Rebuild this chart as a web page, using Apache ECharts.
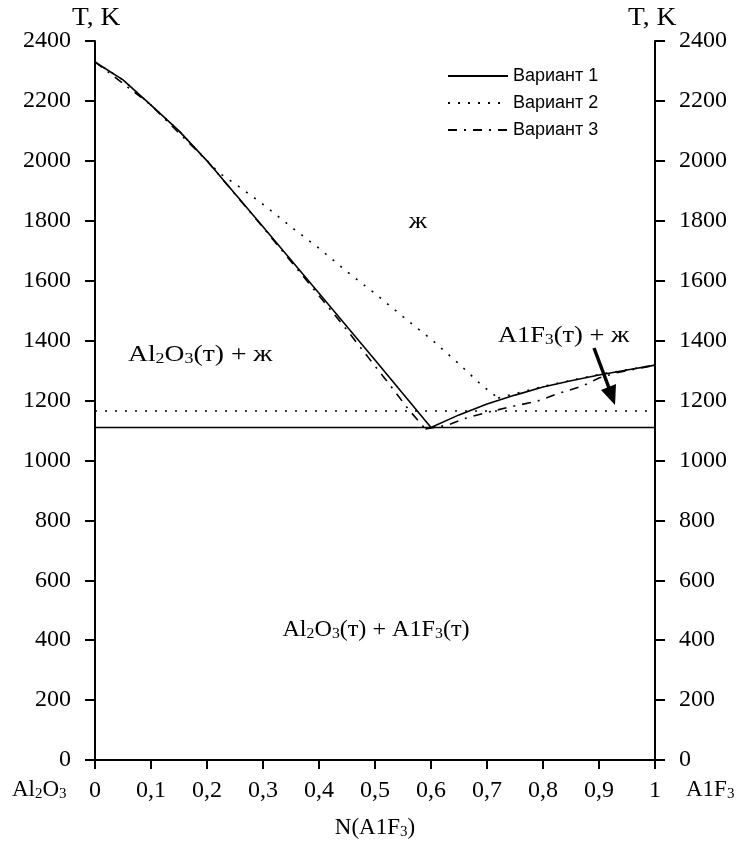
<!DOCTYPE html>
<html>
<head>
<meta charset="utf-8">
<script src="https://cdn.jsdelivr.net/npm/echarts@6/dist/echarts.min.js"></script>
<style>html,body{margin:0;padding:0;background:#fff}#c{width:741px;height:852px}</style>
</head>
<body>
<div id="c"></div>
<script>
// ---- data ----
var seriesNames = ['Вариант 1', 'Вариант 2', 'Вариант 3'];
var xTicks = [0, 0.1, 0.2, 0.3, 0.4, 0.5, 0.6, 0.7, 0.8, 0.9, 1];
var yTicks = [0, 200, 400, 600, 800, 1000, 1200, 1400, 1600, 1800, 2000, 2200, 2400];

// Variant 1 (solid)
var v1Left = [[0,2330],[0.05,2270],[0.1,2186],[0.15,2100],[0.2,2000],[0.3,1780],[0.4,1558],[0.5,1335],[0.6,1110]];
var v1Right = [[0.6,1110],[0.65,1152],[0.7,1188],[0.75,1218],[0.8,1245],[0.85,1266],[0.9,1285],[0.95,1302],[1,1318]];
var v1Solidus = [[0,1110],[1,1110]];

// Variant 2 (dotted)
var v2Left = [[0,2330],[0.05,2270],[0.1,2186],[0.15,2100],[0.18,2040],[0.22,1962],[0.26,1910],[0.3,1855],[0.35,1780],[0.4,1708],[0.45,1630],[0.5,1557],[0.55,1480],[0.6,1405],[0.65,1322],[0.69,1252],[0.72,1208]];
var v2Right = [[0.72,1208],[0.8,1247],[0.9,1287],[1,1318]];
var v2Solidus = [[0,1165],[1,1165]];

// Variant 3 (dash-dot)
var v3Left = [[0,2330],[0.1,2186],[0.2,2000],[0.3,1778],[0.4,1550],[0.45,1435],[0.5,1315],[0.52,1268],[0.56,1170],[0.59,1105]];
var v3Right = [[0.59,1105],[0.63,1118],[0.66,1140],[0.7,1160],[0.74,1178],[0.79,1198],[0.83,1225],[0.87,1248],[0.9,1275],[0.93,1292],[1,1318]];

function joinSegs(segs){
  var out = [];
  segs.forEach(function(s, i){
    if (i > 0) out.push(['-','-']);
    s.forEach(function(p){ out.push(p); });
  });
  return out;
}

var serif = 'Liberation Serif';
var sans = 'Liberation Sans';
var subRich = {
  n: {fontFamily: serif, fontSize: 23, color: '#000'},
  s: {fontFamily: serif, fontSize: 15, color: '#000', padding: [8,0,0,0]}
};
function plain(v){ return String(v); }

var chart = echarts.init(document.getElementById('c'), null, {renderer: 'canvas'});
var option = {
  backgroundColor: '#fff',
  animation: false,
  grid: {left: 95, right: 86, top: 41, bottom: 92},
  legend: {
    data: seriesNames,
    orient: 'vertical',
    left: 447, top: 67, padding: 0,
    itemWidth: 60, itemHeight: 14, itemGap: 9,
    itemStyle: {opacity: 0},
    textStyle: {fontFamily: sans, fontSize: 18, color: '#000', padding: [0,0,0,0]},
    inactiveColor: '#000'
  },
  xAxis: {
    type: 'value', min: 0, max: 1, interval: 0.1,
    axisLine: {show: true, onZero: false, lineStyle: {color: '#000', width: 2}},
    axisTick: {show: true, inside: false, length: 9, lineStyle: {color: '#000', width: 2}},
    splitLine: {show: false},
    axisLabel: {
      margin: 19, fontFamily: serif, fontSize: 24, color: '#000',
      formatter: function(v){ return String(+v.toFixed(1)).replace('.', ','); }
    }
  },
  yAxis: [
    {
      type: 'value', min: 0, max: 2400, interval: 200, position: 'left',
      axisLine: {show: true, onZero: false, lineStyle: {color: '#000', width: 2}},
      axisTick: {show: true, inside: false, length: 10, lineStyle: {color: '#000', width: 2}},
      splitLine: {show: false},
      axisLabel: {margin: 24, fontFamily: serif, fontSize: 24, color: '#000', formatter: plain}
    },
    {
      type: 'value', min: 0, max: 2400, interval: 200, position: 'right', offset: 0,
      axisLine: {show: true, onZero: false, lineStyle: {color: '#000', width: 2}},
      axisTick: {show: true, inside: false, length: 10, lineStyle: {color: '#000', width: 2}},
      splitLine: {show: false},
      axisLabel: {margin: 24, fontFamily: serif, fontSize: 24, color: '#000', formatter: plain}
    },
    {
      type: 'value', min: 0, max: 2400, interval: 200, position: 'right', offset: 0,
      axisLine: {show: false},
      axisTick: {show: true, inside: true, length: 10, lineStyle: {color: '#000', width: 2}},
      splitLine: {show: false},
      axisLabel: {show: false}
    }
  ],
  series: [
    {
      name: seriesNames[1], type: 'line', symbol: 'none', showSymbol: false,
      data: joinSegs([v2Left, v2Right, v2Solidus]),
      lineStyle: {color: '#000', width: 1.6, type: [2, 8]},
      itemStyle: {color: '#000'}, z: 2
    },
    {
      name: seriesNames[2], type: 'line', symbol: 'none', showSymbol: false,
      data: joinSegs([v3Left, v3Right]),
      lineStyle: {color: '#000', width: 1.6, type: [9, 7, 2, 7]},
      itemStyle: {color: '#000'}, z: 2
    },
    {
      name: seriesNames[0], type: 'line', symbol: 'none', showSymbol: false,
      data: joinSegs([v1Left, v1Right, v1Solidus]),
      lineStyle: {color: '#000', width: 1.6, type: 'solid'},
      itemStyle: {color: '#000'}, z: 3
    }
  ],
  graphic: [
    {type: 'text', x: 72, y: 6, scaleX: 1.1, style: {text: 'T, K', font: '25px "Liberation Serif"', fill: '#000'}},
    {type: 'text', x: 628, y: 6, scaleX: 1.1, style: {text: 'T, K', font: '25px "Liberation Serif"', fill: '#000'}},
    {type: 'text', x: 418, y: 222, scaleX: 1.15, style: {text: 'ж', font: '23px "Liberation Serif"', fill: '#000', align: 'center', verticalAlign: 'middle'}},
    {type: 'text', x: 128, y: 355, scaleX: 1.2, style: {text: '{n|Al}{s|2}{n|O}{s|3}{n|(т) + ж}', rich: subRich, align: 'left', verticalAlign: 'middle'}},
    {type: 'text', x: 498, y: 336, scaleX: 1.15, style: {text: '{n|A1F}{s|3}{n|(т) + ж}', rich: subRich, align: 'left', verticalAlign: 'middle'}},
    {type: 'text', x: 376, y: 630, scaleX: 1.05, style: {text: '{n|Al}{s|2}{n|O}{s|3}{n|(т) + A1F}{s|3}{n|(т)}', rich: subRich, align: 'center', verticalAlign: 'middle'}},
    {type: 'text', x: 12, y: 790, style: {text: '{n|Al}{s|2}{n|O}{s|3}', rich: subRich, align: 'left', verticalAlign: 'middle'}},
    {type: 'text', x: 686, y: 790, style: {text: '{n|A1F}{s|3}', rich: subRich, align: 'left', verticalAlign: 'middle'}},
    {type: 'text', x: 375, y: 828, style: {text: '{n|N(A1F}{s|3}{n|)}', rich: subRich, align: 'center', verticalAlign: 'middle'}},
    {type: 'line', shape: {x1: 594, y1: 348, x2: 609, y2: 388}, style: {stroke: '#000', lineWidth: 3.5}},
    {type: 'polygon', shape: {points: [[615,405],[601,390],[616,384]]}, style: {fill: '#000'}}
  ]
};
chart.setOption(option);
</script>
</body>
</html>
